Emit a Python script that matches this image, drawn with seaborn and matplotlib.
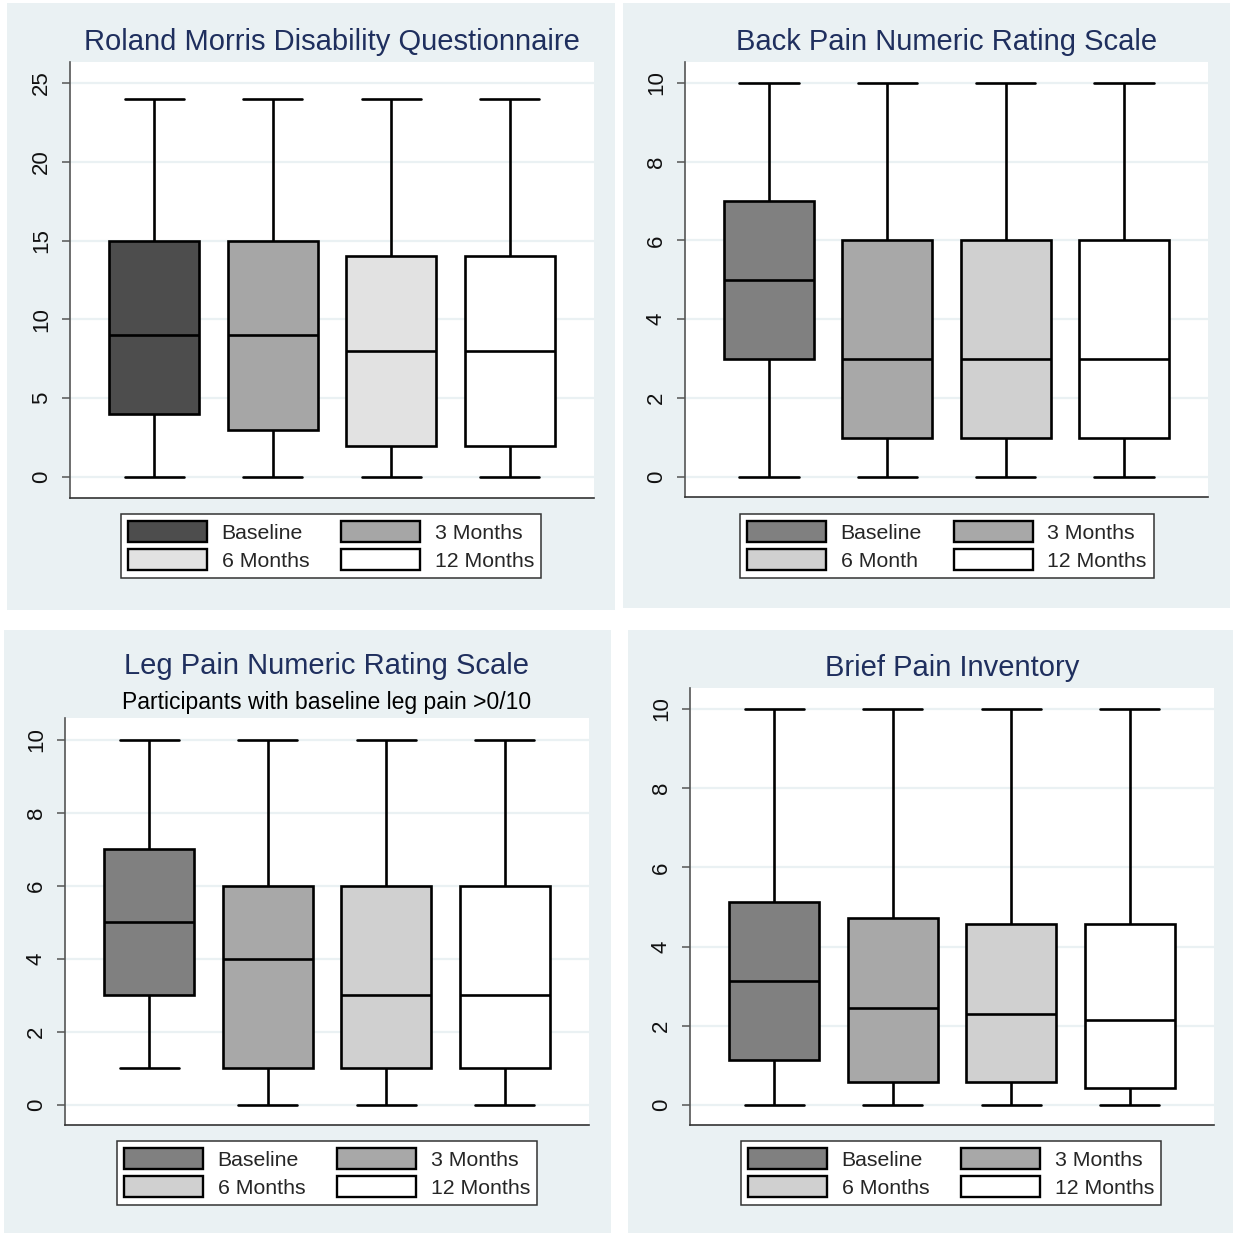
import numpy as np
import pandas as pd
import matplotlib
matplotlib.use("Agg")
import matplotlib.pyplot as plt
from matplotlib.patches import Patch, Rectangle
import seaborn as sns

sns.set_theme(style="white")
plt.rcParams["font.family"] = ["Liberation Sans", "DejaVu Sans"]

# Five-number summaries (min, Q1, median, Q3, max) for each outcome and time point
rmdq_baseline = [0, 4, 9, 15, 24]
rmdq_3m = [0, 3, 9, 15, 24]
rmdq_6m = [0, 2, 8, 14, 24]
rmdq_12m = [0, 2, 8, 14, 24]

back_baseline = [0, 3, 5, 7, 10]
back_3m = [0, 1, 3, 6, 10]
back_6m = [0, 1, 3, 6, 10]
back_12m = [0, 1, 3, 6, 10]

leg_baseline = [1, 3, 5, 7, 10]
leg_3m = [0, 1, 4, 6, 10]
leg_6m = [0, 1, 3, 6, 10]
leg_12m = [0, 1, 3, 6, 10]

bpi_baseline = [0, 1.15, 3.13, 5.13, 10]
bpi_3m = [0, 0.58, 2.45, 4.72, 10]
bpi_6m = [0, 0.58, 2.30, 4.57, 10]
bpi_12m = [0, 0.43, 2.15, 4.57, 10]

time_points = ["Baseline", "3 Months", "6 Months", "12 Months"]

titles = ["Roland Morris Disability Questionnaire", "Back Pain Numeric Rating Scale",
          "Leg Pain Numeric Rating Scale", "Brief Pain Inventory"]
subtitle_leg = "Participants with baseline leg pain >0/10"

legend_labels_rmdq = ["Baseline", "3 Months", "6 Months", "12 Months"]
legend_labels_back = ["Baseline", "3 Months", "6 Month", "12 Months"]
legend_labels_leg = ["Baseline", "3 Months", "6 Months", "12 Months"]
legend_labels_bpi = ["Baseline", "3 Months", "6 Months", "12 Months"]

colors_rmdq = ["#4D4D4D", "#A6A6A6", "#E2E2E2", "#FFFFFF"]
colors_other = ["#808080", "#A8A8A8", "#D0D0D0", "#FFFFFF"]

W = H = 1235
fig = plt.figure(figsize=(12.35, 12.35), dpi=100, facecolor="white")

BG = "#EAF1F3"
TITLE_C = "#1F2F5E"


def fx(px):
    return px / W


def fy(py):
    return 1 - py / H


# light panel backgrounds (left, top, right, bottom in pixels)
for (l, t, r, b) in [(7, 3, 615, 610), (623, 3, 1230, 608), (4, 630, 611, 1233), (628, 630, 1233, 1233)]:
    fig.add_artist(Rectangle((fx(l), fy(b)), fx(r - l), (b - t) / H, transform=fig.transFigure,
                             facecolor=BG, edgecolor="none", zorder=0))


def make_axes(l, t, r, b):
    return fig.add_axes([fx(l), fy(b), fx(r - l), (b - t) / H])


def panel(ax, summaries, colors, ylim, yticks, title, labels, legend_center, title_y, subtitle=None, sub_y=None):
    df = pd.DataFrame({
        "time": np.repeat(time_points, 5),
        "score": np.concatenate(summaries),
    })
    df["time"] = pd.Categorical(df["time"], categories=time_points, ordered=True)
    ax.set_facecolor("white")
    ax.set_ylim(*ylim)
    ax.set_yticks(yticks)
    for yv in yticks:
        ax.axhline(yv, color=BG, lw=1.6, zorder=0)
    sns.boxplot(data=df, x="time", y="score", hue="time", palette=colors, width=0.76,
                whis=(0, 100), linecolor="black", linewidth=1.9, legend=False,
                capwidths=0.5, ax=ax, zorder=2)
    ax.set_xlim(-0.71, 3.71)
    ax.set_xlabel("")
    ax.set_ylabel("")
    ax.set_xticks([])
    ax.tick_params(axis="y", which="major", direction="out", length=6, width=1.1,
                   color="#555555", labelsize=16, labelcolor="#111111", pad=7, left=True,
                   labelrotation=90)
    for lab in ax.get_yticklabels():
        lab.set_va("center")
    ax.spines["top"].set_visible(False)
    ax.spines["right"].set_visible(False)
    ax.spines["left"].set_color("#555555")
    ax.spines["bottom"].set_color("#333333")
    ax.spines["left"].set_linewidth(1.2)
    ax.spines["bottom"].set_linewidth(1.2)

    pos = ax.get_position()
    cx = pos.x0 + pos.width / 2
    fig.text(cx, fy(title_y), title, ha="center", va="center", fontsize=21, color=TITLE_C)
    if subtitle:
        fig.text(cx, fy(sub_y), subtitle, ha="center", va="center", fontsize=16.5, color="black")

    handles = [Patch(facecolor=c, edgecolor="black", linewidth=1.7) for c in colors]
    order = [0, 2, 1, 3]
    leg = fig.legend([handles[i] for i in order], [labels[i] for i in order], ncol=2,
                     loc="center", bbox_to_anchor=(fx(legend_center[0]), fy(legend_center[1])),
                     bbox_transform=fig.transFigure, fontsize=15.3, frameon=True,
                     fancybox=False, edgecolor="#333333", framealpha=1,
                     handlelength=3.7, handleheight=1.15, handletextpad=0.7,
                     columnspacing=1.5, labelspacing=0.3, borderpad=0.35)
    leg.get_frame().set_linewidth(1.1)


ax1 = make_axes(70, 62, 594, 498)
panel(ax1, [rmdq_baseline, rmdq_3m, rmdq_6m, rmdq_12m], colors_rmdq, (-1.33, 26.33),
      [0, 5, 10, 15, 20, 25], titles[0], legend_labels_rmdq, (331, 546), 42)

ax2 = make_axes(685, 62, 1208, 497)
panel(ax2, [back_baseline, back_3m, back_6m, back_12m], colors_other, (-0.51, 10.53),
      [0, 2, 4, 6, 8, 10], titles[1], legend_labels_back, (947, 546), 42)

ax3 = make_axes(65, 718, 589, 1125)
panel(ax3, [leg_baseline, leg_3m, leg_6m, leg_12m], colors_other, (-0.55, 10.6),
      [0, 2, 4, 6, 8, 10], titles[2], legend_labels_leg, (327, 1173), 666,
      subtitle=subtitle_leg, sub_y=702)

ax4 = make_axes(690, 688, 1214, 1125)
panel(ax4, [bpi_baseline, bpi_3m, bpi_6m, bpi_12m], colors_other, (-0.5, 10.53),
      [0, 2, 4, 6, 8, 10], titles[3], legend_labels_bpi, (951, 1173), 668)

fig.savefig("out.png", dpi=100, facecolor="white")
